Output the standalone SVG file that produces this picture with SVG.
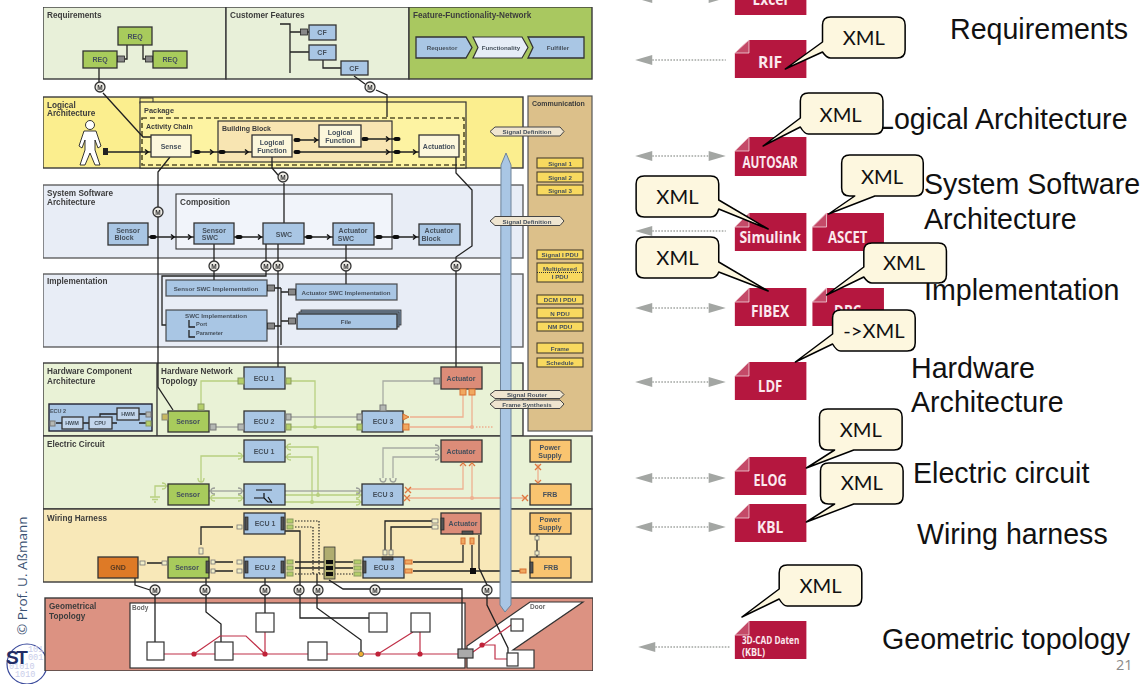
<svg xmlns="http://www.w3.org/2000/svg" width="1147" height="684" viewBox="0 0 1147 684">
<style>
text{font-family:"Liberation Sans",Arial,sans-serif}
.t{font-size:8.2px;font-weight:bold;fill:#3c3c3c}
.n{font-size:7px;font-weight:bold;fill:#45505c;text-anchor:middle}
.s{font-size:6.2px;font-weight:bold;fill:#45505c;text-anchor:middle}
.pan{stroke:#3a3a3a;stroke-width:1.4}
.box{stroke:#333;stroke-width:1.3}
.blue{fill:#a9c6e4}.green{fill:#a8cb5c}.act{fill:#dc8c78}.ora{fill:#f9c46f}.cream{fill:#fcf7dc}.sig{fill:#f8d95e;stroke:#4a4030;stroke-width:1.1}
.w{fill:none;stroke:#222;stroke-width:1.3}
.d{fill:none;stroke:#222;stroke-width:1.2;stroke-dasharray:1.5 1.5}
.gl{fill:none;stroke:#b8d080;stroke-width:1.3}
.gy{fill:none;stroke:#a8aca4;stroke-width:1.3}
.ol{fill:none;stroke:#eeb090;stroke-width:1.3}
.rd{fill:none;stroke:#c03048;stroke-width:1.2}
.pg{fill:#b5cf6a;stroke:#8a9a60;stroke-width:1}
.py{fill:#b4b8b4;stroke:#777;stroke-width:1}
.po{fill:#f0a860;stroke:#d87030;stroke-width:1}
.pw{fill:#f2efc8;stroke:#777;stroke-width:.8}
.st{fill:#555;stroke:#222;stroke-width:.7}
.mc{fill:#eceae4;stroke:#333;stroke-width:1.3}
.mt{font-size:6.5px;font-weight:bold;fill:#333;text-anchor:middle}
.hx{fill:#efe5d0;stroke:#444;stroke-width:1}
.geo{fill:#fff;stroke:#333;stroke-width:1.2}
.doc{fill:#b5173f}
.fold{fill:#c44a68;stroke:#f2d6dc;stroke-width:.8}
.dl{font-weight:bold;fill:#fbe9ee;text-anchor:middle;font-size:16px;font-family:"Open Sans","Noto Sans",sans-serif}
.ga{fill:#a3a6a3}
.dots{fill:none;stroke:#a3a6a3;stroke-width:1.3;stroke-dasharray:1.6 1.4}
.cl{fill:#fdf7df;stroke:#000;stroke-width:1.5;stroke-linejoin:round}
.xt{font-family:Lato,"Open Sans",sans-serif;font-size:20px;fill:#111;text-anchor:middle}
.lb{font-size:28.6px;fill:#111}
</style>
<defs>
<g id="sk"><rect x="-3.5" y="-2" width="7" height="4" rx="2" fill="#111"/></g>
<path id="av" d="M-2,-2.5 L1,0 L-2,2.5" fill="none" stroke="#111" stroke-width="1.5"/>
<path id="cv" d="M-2,-3 Q2,-3 2,0 Q2,3 -2,3" fill="none" stroke-width="1.3"/>
<path id="cx" d="M-3,-3 L3,3 M-3,3 L3,-3" fill="none" stroke="#e07840" stroke-width="1.4"/>
<rect id="tb" x="-3.5" y="-3" width="7" height="6" fill="#888" stroke="#222" stroke-width=".8"/>
<filter id="soft" x="0" y="0" width="1" height="1"><feGaussianBlur stdDeviation="0.4"/></filter>
</defs>

<g id="copyright">
<text transform="translate(27,635) rotate(-90)" font-size="13.5" fill="#3b5273" style="font-family:'Open Sans','Noto Sans',sans-serif">© Prof. U. Aßmann</text>
</g>
<g id="st-logo">
<circle cx="27" cy="664" r="20" fill="#fff" stroke="#3a4a9c" stroke-width="1.2"/>
<g font-size="8.5" fill="#c9cdea"><text x="28" y="652" style="font-family:'Liberation Mono',monospace">101</text><text x="28" y="660" style="font-family:'Liberation Mono',monospace">001</text><text x="9" y="669" style="font-family:'Liberation Mono',monospace">01010</text><text x="15" y="677" style="font-family:'Liberation Mono',monospace">1010</text></g>
<text x="6" y="664" font-size="19" font-weight="bold" fill="#222c66" letter-spacing="-2.5">ST</text>
</g>

<g id="left-diagram" filter="url(#soft)">
<g id="panels">
<rect id="p-req" class="pan" x="43" y="7" width="183" height="72" fill="#e8f0d9"/>
<rect id="p-cf" class="pan" x="226" y="7" width="183" height="72" fill="#e8f0d9"/>
<rect id="p-ffn" class="pan" x="409" y="7" width="183" height="72" fill="#a9c860"/>
<rect id="p-log" class="pan" x="43" y="97" width="480" height="71" fill="#fbee8e"/>
<rect id="p-com" x="528" y="96" width="64" height="335" fill="#dcc08a" stroke="#555" stroke-width="1.2"/>
<rect id="p-sys" class="pan" x="43" y="185" width="480" height="73" fill="#e8edf6" stroke-opacity=".8"/>
<rect id="p-imp" class="pan" x="43" y="274" width="480" height="73" fill="#e8edf6" stroke-opacity=".8"/>
<rect id="p-hw" class="pan" x="43" y="363" width="480" height="73" fill="#e9f2d6"/>
<rect id="p-ec" class="pan" x="43" y="436" width="549" height="73" fill="#e9f2d6"/>
<rect id="p-wh" class="pan" x="43" y="509" width="549" height="73" fill="#f8e8b8"/>
<rect id="p-geo" class="pan" x="45" y="598" width="548" height="73" fill="#dc9282"/>
<path d="M157,363V436" class="pan" fill="none"/>
<rect id="p-body" class="geo" x="130" y="603" width="335" height="65"/>
<path id="p-door" class="geo" d="M467,646L530,602H583L513,650H534V668H467Z"/>
<text class="t" x="47" y="18">Requirements</text>
<text class="t" x="230" y="18">Customer Features</text>
<text class="t" x="413" y="18">Feature-Functionality-Network</text>
<text class="t" x="47" y="108">Logical</text><text class="t" x="47" y="116">Architecture</text>
<text class="t" x="532" y="106" style="font-size:7px">Communication</text>
<text class="t" x="47" y="196">System Software</text><text class="t" x="47" y="205">Architecture</text>
<text class="t" x="47" y="284">Implementation</text>
<text class="t" x="47" y="374">Hardware Component</text><text class="t" x="47" y="384">Architecture</text>
<text class="t" x="161" y="374">Hardware Network</text><text class="t" x="161" y="384">Topology</text>
<text class="t" x="47" y="447">Electric Circuit</text>
<text class="t" x="47" y="521">Wiring Harness</text>
<text class="t" x="49" y="609">Geometrical</text><text class="t" x="49" y="619">Topology</text>
<text class="t" x="132" y="610" style="font-size:6.5px;fill:#666">Body</text>
<text class="t" x="530" y="609" style="font-size:6.5px;fill:#666">Door</text>
</g>

<g id="logical-frames">
<rect x="140" y="98" width="13" height="5" fill="#fbee8e" stroke="#333"/>
<rect id="package" x="140" y="102" width="326" height="66" fill="#fdf3a2" stroke="#333" stroke-width="1.2"/>
<text class="t" x="144" y="113" style="font-size:7.4px">Package</text>
<rect id="activity-chain" x="142" y="118" width="322" height="47" fill="none" stroke="#55502a" stroke-width="1.6" stroke-dasharray="5 3"/>
<text class="t" x="146" y="129" style="font-size:7px">Activity Chain</text>
<rect id="building-block" x="218" y="121" width="174" height="41" fill="#f8e5b2" stroke="#333" stroke-width="1.2"/>
<text class="t" x="222" y="131" style="font-size:7px">Building Block</text>
<rect id="composition" x="176" y="194" width="216" height="55" fill="#f1f4fa" stroke="#333" stroke-width="1.1"/>
<text class="t" x="180" y="205">Composition</text>
</g>

<g id="connectors">
<g id="hw-links">
<path class="gl" d="M238,381H201V405M291,381H315V427M291,427H357"/>
<path class="gy" d="M216,427H238M291,417H357"/>
<path class="gy" d="M383,405V381H434"/>
<path class="ol" d="M463,395V417H410M472,395V427H410"/>
<path class="ol" stroke-dasharray="1.5 1.5" d="M476,427H493"/>
<circle cx="315" cy="427" r="2" fill="#b8d080"/><circle cx="472" cy="427" r="2" fill="#eeb090"/>
<path class="gl" d="M244,456H201V482M285,447H318V495M285,457H312V502M285,495H362M285,502H362"/>
<path class="gl" d="M168,486H155V497M150,497H160M152,499.5H158M154,502H156"/>
<path class="gy" d="M209,491H244M285,491H362"/><path class="gl" d="M209,498H244"/>
<path class="gy" d="M383,478V448H438M393,478V457H438"/>
<path class="ol" d="M463,465V489H409M472,465V498M409,498H527M538,464V482"/>
<circle cx="318" cy="495" r="2" fill="#b8d080"/><circle cx="312" cy="502" r="2" fill="#b8d080"/><circle cx="472" cy="498" r="2" fill="#eeb090"/>
</g>
<g id="logic-links">
<path class="w" d="M127,45V59H125M143,45V59H145M99,68V87M103,93L143,137H151"/>
<path class="w" d="M280,24H290V73M290,32H309M290,52H309M323,60V68H341M354,76L365,84M376,90L387,95V117"/>
<path class="w" d="M108,152H151M191,152H252M294,140H319M294,152H419M362,139H394"/>
<path class="w" d="M170,157L158,172V387L173,410"/>
<path class="w" d="M272,157V168L278,175M284,183V223"/>
<path class="w" d="M456,157V173L472,190V246L456,257V367"/>
<path class="w" d="M148,237H194M234,237H263M304,237H333M374,237H419"/>
<path class="w" d="M214,244V280M266,244V276H162V325H166M278,244V367M346,245V284"/>
<path class="w" d="M275,288H281M281,288V345M281,292H288M275,326H281M281,321H288"/>
</g>
<g id="wiring-links">
<path class="w" d="M147,563H162M201,545V527H233M215,562H233M215,571H233M295,562H353M295,568H353"/>
<path class="d" d="M295,521H319V574M295,527H313V574M295,574H353"/>
<path class="w" d="M285,531H300V618H369"/>
<path class="w" d="M317,574V608L361,640V652"/>
<path class="w" d="M329,580L343,589H462V649"/>
<path class="w" d="M385,550V521H432M391,550V527H432"/>
<path class="w" d="M463,545V562H413M472,545V571M413,571H520"/>
<rect x="470" y="568" width="6" height="6" fill="#111"/>
<path class="w" d="M479,535V568L487,585V605L508,648V653"/>
<path class="w" d="M135,578V585L150,590M155,595V642M206,578V612L221,624V642M265,578V613"/>
<path class="w" d="M537,534V557" stroke="#a05020"/>
</g>
<g id="red-links">
<path class="rd" d="M164,654H215M194,654L220,636H246L265,654V632M233,654H308M327,654H458M378,654L413,632M420,654V632M473,652L511,625M482,645H495V659H507"/>
<circle cx="194" cy="654" r="2.6" fill="#c02038"/><circle cx="265" cy="654" r="2.6" fill="#c02038"/><circle cx="378" cy="654" r="2.6" fill="#c02038"/><circle cx="420" cy="654" r="2.6" fill="#c02038"/><circle cx="482" cy="645" r="2.6" fill="#c02038"/>
<circle cx="361" cy="654" r="2.6" fill="#f0b030" stroke="#555" stroke-width=".8"/>
</g>
<g id="conn-symbols">
<use href="#sk" x="197" y="152"/><use href="#sk" x="222" y="152"/><use href="#av" x="212" y="152"/><use href="#av" x="247" y="152"/>
<use href="#sk" x="297" y="140"/><use href="#sk" x="297" y="152"/><use href="#av" x="316" y="140"/>
<use href="#sk" x="365" y="139"/><use href="#av" x="388" y="139"/><use href="#av" x="388" y="152"/><use href="#sk" x="397" y="139"/><use href="#sk" x="397" y="152"/><use href="#av" x="415" y="152"/>
<use href="#av" x="147" y="152"/><rect x="103" y="148" width="5" height="7" fill="#222"/>
<use href="#sk" x="153" y="237"/><use href="#av" x="173" y="237"/><use href="#av" x="190" y="237"/><use href="#sk" x="239" y="237"/><use href="#av" x="260" y="237"/><use href="#sk" x="309" y="237"/><use href="#av" x="329" y="237"/><use href="#sk" x="379" y="237"/><use href="#sk" x="396" y="237"/><use href="#av" x="415" y="237"/>
<use href="#tb" x="121" y="59"/><use href="#tb" x="149" y="59"/><use href="#tb" x="304" y="32"/>
<use href="#tb" x="271" y="288"/><use href="#tb" x="292" y="292"/><use href="#tb" x="271" y="326"/><use href="#tb" x="292" y="321"/>
</g>
<g id="m-marks">
<g><circle class="mc" cx="100" cy="87" r="5"/><text class="mt" x="100" y="89.5">M</text></g>
<g><circle class="mc" cx="370" cy="87" r="5"/><text class="mt" x="370" y="89.5">M</text></g>
<g><circle class="mc" cx="283" cy="177" r="5"/><text class="mt" x="283" y="179.5">M</text></g>
<g><circle class="mc" cx="158" cy="212" r="5"/><text class="mt" x="158" y="214.5">M</text></g>
<g><circle class="mc" cx="214" cy="266" r="5"/><text class="mt" x="214" y="268.5">M</text></g>
<g><circle class="mc" cx="266" cy="266" r="5"/><text class="mt" x="266" y="268.5">M</text></g>
<g><circle class="mc" cx="278" cy="266" r="5"/><text class="mt" x="278" y="268.5">M</text></g>
<g><circle class="mc" cx="346" cy="266" r="5"/><text class="mt" x="346" y="268.5">M</text></g>
<g><circle class="mc" cx="456" cy="266" r="5"/><text class="mt" x="456" y="268.5">M</text></g>
<g><circle class="mc" cx="155" cy="590" r="5"/><text class="mt" x="155" y="592.5">M</text></g>
<g><circle class="mc" cx="205" cy="590" r="5"/><text class="mt" x="205" y="592.5">M</text></g>
<g><circle class="mc" cx="265" cy="590" r="5"/><text class="mt" x="265" y="592.5">M</text></g>
<g><circle class="mc" cx="299" cy="590" r="5"/><text class="mt" x="299" y="592.5">M</text></g>
<g><circle class="mc" cx="318" cy="590" r="5"/><text class="mt" x="318" y="592.5">M</text></g>
<g><circle class="mc" cx="375" cy="590" r="5"/><text class="mt" x="375" y="592.5">M</text></g>
<g><circle class="mc" cx="487" cy="590" r="5"/><text class="mt" x="487" y="592.5">M</text></g>
</g>
</g>

<g id="person"><circle cx="90" cy="125" r="4.5" fill="#fff" stroke="#222" stroke-width=".9"/><path d="M84,131H96L101,146L98,148L95,140V150L100,165H95L90,153L85,165H80L85,150V140L82,148L79,146Z" fill="#fff" stroke="#222" stroke-width=".9"/></g>

<g id="req1"><rect class="box green" x="118" y="27" width="34" height="18"/><text class="n" x="135" y="38.5">REQ</text></g>
<g id="req2"><rect class="box green" x="83" y="51" width="34" height="17"/><text class="n" x="100" y="62">REQ</text></g>
<g id="req3"><rect class="box green" x="153" y="51" width="34" height="17"/><text class="n" x="170" y="62">REQ</text></g>
<g id="cf1"><rect class="box blue" x="309" y="25" width="27" height="15"/><text class="n" x="322" y="35">CF</text></g>
<g id="cf2"><rect class="box blue" x="309" y="45" width="27" height="15"/><text class="n" x="322" y="55">CF</text></g>
<g id="cf3"><rect class="box blue" x="341" y="61" width="27" height="14"/><text class="n" x="354" y="70.5">CF</text></g>
<g id="requestor"><path class="box blue" d="M416,37H466L472,47.5L466,58H416Z"/><text class="s" x="442" y="50">Requestor</text></g>
<g id="functionality"><path d="M473,37H522L528,47.5L522,58H473L478,47.5Z" fill="#e6edf7" stroke="#333" stroke-width="1.2"/><text class="s" x="501" y="50">Functionality</text></g>
<g id="fulfiller"><path class="box blue" d="M528,37H584V58H528L533,47.5Z"/><text class="s" x="558" y="50">Fulfiller</text></g>

<g id="sense"><rect class="box cream" x="151" y="135" width="40" height="22"/><text class="n" x="171" y="148.5">Sense</text></g>
<g id="lf1"><rect class="box cream" x="252" y="135" width="40" height="22"/><text class="n" x="272" y="145">Logical</text><text class="n" x="272" y="152.5">Function</text></g>
<g id="lf2"><rect class="box cream" x="319" y="125" width="42" height="22"/><text class="n" x="340" y="135">Logical</text><text class="n" x="340" y="142.5">Function</text></g>
<g id="actuation"><rect class="box cream" x="419" y="135" width="40" height="22"/><text class="n" x="439" y="148.5">Actuation</text></g>

<g id="sensor-block"><rect class="box blue" x="108" y="223" width="40" height="22"/><text class="n" x="128" y="232.5">Sensor</text><text class="n" x="124" y="240">Block</text></g>
<g id="sensor-swc"><rect class="box blue" x="194" y="223" width="40" height="21"/><text class="n" x="214" y="232.5">Sensor</text><text class="n" x="210" y="240">SWC</text></g>
<g id="swc"><rect class="box blue" x="263" y="223" width="41" height="21"/><text class="n" x="284" y="236.5">SWC</text></g>
<g id="actuator-swc"><rect class="box blue" x="333" y="223" width="41" height="22"/><text class="n" x="353" y="232.5">Actuator</text><text class="n" x="346" y="240.5">SWC</text></g>
<g id="actuator-block"><rect class="box blue" x="419" y="224" width="41" height="21"/><text class="n" x="439" y="233">Actuator</text><text class="n" x="431" y="241">Block</text></g>

<g id="sensor-impl"><rect class="box blue" x="166" y="280" width="101" height="16" stroke-opacity=".8"/><text class="s" x="216" y="290.5">Sensor SWC Implementation</text></g>
<g id="swc-impl"><rect class="box blue" x="166" y="310" width="101" height="31" stroke-opacity=".8"/><text class="s" x="216" y="318">SWC Implementation</text><path class="w" d="M189,320V327H195M189,330V337H195" stroke-width="1"/><text class="s" x="196" y="326" style="font-size:5.6px;text-anchor:start">Port</text><text class="s" x="196" y="335" style="font-size:5.5px;text-anchor:start">Parameter</text></g>
<g id="actuator-impl"><rect class="box blue" x="296" y="284" width="101" height="16" stroke-opacity=".8"/><text class="s" x="346" y="294.5">Actuator SWC Implementation</text></g>
<g id="file"><rect x="301" y="310" width="100" height="15" fill="#7e94ac" stroke="#333" stroke-width=".8"/><rect x="299" y="312" width="100" height="15" fill="#7e94ac" stroke="#333" stroke-width=".8"/><rect class="box blue" x="297" y="314" width="100" height="15"/><text class="s" x="346" y="324">File</text></g>

<g id="ecu2-hc"><rect x="49" y="404" width="103" height="27" fill="#a9c6e4" stroke="#223" stroke-width="1.4"/><text class="s" x="58" y="413" style="font-size:5.5px">ECU 2</text>
<path class="w" d="M56,423H62M83,423H89M112,423H117M100,417V414H117M139,414H146M139,423H146" stroke-width="1"/>
<rect class="box" x="62" y="417" width="21" height="12" fill="#c3d6ec" stroke-width="1"/><text class="s" x="72" y="425" style="font-size:5.5px">HWM</text>
<rect class="box" x="89" y="417" width="23" height="12" fill="#c3d6ec" stroke-width="1"/><text class="s" x="100" y="425" style="font-size:5.5px">CPU</text>
<rect class="box" x="117" y="408" width="22" height="12" fill="#c3d6ec" stroke-width="1"/><text class="s" x="128" y="416" style="font-size:5.5px">HWM</text>
<rect class="py" x="50" y="421" width="5" height="5"/><rect class="py" x="146" y="412" width="5" height="5"/><rect class="pg" x="146" y="421" width="5" height="5"/></g>

<g id="hw-nodes">
<g id="hw-ecu1"><rect class="box blue" x="244" y="367" width="41" height="22"/><text class="n" x="264" y="380.5">ECU 1</text><rect class="pg" x="238" y="378" width="6" height="6"/><rect class="pg" x="286" y="378" width="5" height="6"/></g>
<g id="hw-ecu2"><rect class="box blue" x="244" y="411" width="41" height="21"/><text class="n" x="264" y="424">ECU 2</text><rect class="py" x="238" y="424" width="6" height="6"/><rect class="py" x="286" y="414" width="5" height="6"/><rect class="pg" x="286" y="424" width="5" height="6"/></g>
<g id="hw-ecu3"><rect class="box blue" x="362" y="411" width="41" height="21"/><text class="n" x="383" y="424">ECU 3</text><rect class="py" x="357" y="414" width="5" height="6"/><rect class="pg" x="357" y="424" width="5" height="6"/><rect class="py" x="380" y="405" width="6" height="6"/><path class="po" d="M403,414L409,417L403,420Z"/><rect class="po" x="403" y="424" width="6" height="6"/></g>
<g id="hw-sensor"><rect class="box green" x="168" y="411" width="41" height="21"/><text class="n" x="188" y="424">Sensor</text><rect x="162" y="414" width="6" height="6" fill="#c8b860" stroke="#887" stroke-width="1"/><rect class="pg" x="198" y="404" width="6" height="6"/><rect class="py" x="210" y="424" width="6" height="6"/></g>
<g id="hw-actuator"><rect class="box act" x="441" y="367" width="41" height="22"/><text class="n" x="461" y="380.5">Actuator</text><rect class="py" x="434" y="378" width="6" height="6"/><rect class="po" x="460" y="389" width="6" height="6"/><rect class="po" x="469" y="389" width="6" height="6"/></g>
</g>
<g id="ec-nodes">
<g id="ec-ecu1"><rect class="box blue" x="244" y="440" width="41" height="22"/><text class="n" x="264" y="453.5">ECU 1</text></g>
<g id="ec-ecu2"><rect class="box blue" x="244" y="484" width="41" height="21"/><path d="M256,490H272M254,498H264M264,493V498L268,502H272M268,497L272,503" fill="none" stroke="#111" stroke-width="1.2"/></g>
<g id="ec-ecu3"><rect class="box blue" x="362" y="484" width="41" height="21"/><text class="n" x="383" y="497">ECU 3</text></g>
<g id="ec-sensor"><rect class="box green" x="168" y="484" width="41" height="21"/><text class="n" x="188" y="497">Sensor</text></g>
<g id="ec-actuator"><rect class="box act" x="441" y="440" width="41" height="22"/><text class="n" x="461" y="453.5">Actuator</text></g>
<g id="ec-power"><rect class="box ora" x="530" y="440" width="41" height="22"/><text class="n" x="550" y="449.5">Power</text><text class="n" x="550" y="457.5">Supply</text></g>
<g id="ec-frb"><rect class="box ora" x="530" y="484" width="41" height="21"/><text class="n" x="550" y="497">FRB</text></g>
<g id="ec-sym">
<g stroke="#b8d080"><use href="#cv" transform="translate(240,456)"/><use href="#cv" transform="translate(201,480) rotate(90)"/><use href="#cv" transform="translate(164,486)"/><use href="#cv" transform="translate(289,447) rotate(180)"/><use href="#cv" transform="translate(289,457) rotate(180)"/><use href="#cv" transform="translate(240,498)"/><use href="#cv" transform="translate(213,498) rotate(180)"/><use href="#cv" transform="translate(358,495)"/><use href="#cv" transform="translate(358,502)"/></g>
<g stroke="#9a9e98"><use href="#cv" transform="translate(240,491)"/><use href="#cv" transform="translate(213,491) rotate(180)"/><use href="#cv" transform="translate(358,491)"/><use href="#cv" transform="translate(383,480) rotate(90)"/><use href="#cv" transform="translate(393,480) rotate(90)"/><use href="#cv" transform="translate(437,448)"/><use href="#cv" transform="translate(437,457)"/></g>
<use href="#cx" x="408" y="490"/><use href="#cx" x="407" y="498"/><use href="#cx" x="525" y="498"/><use href="#cx" x="538" y="467"/>
<path d="M460,466L463,463L466,466M469,466L472,463L475,466M535,480L538,483L541,480" fill="none" stroke="#e07840" stroke-width="1.3"/>
</g>
</g>
<g id="wh-nodes">
<g id="wh-ecu1"><rect class="box blue" x="244" y="513" width="41" height="21"/><text class="n" x="265" y="526">ECU 1</text><rect class="st" x="245" y="517" width="3" height="13"/><rect class="st" x="281" y="517" width="3" height="13"/><rect class="pw" x="237" y="525" width="5" height="4"/><rect class="pg" x="287" y="519" width="6" height="4"/><rect class="pg" x="287" y="525" width="6" height="4"/></g>
<g id="wh-ecu2"><rect class="box blue" x="244" y="557" width="41" height="21"/><text class="n" x="265" y="570">ECU 2</text><rect class="st" x="245" y="561" width="3" height="12"/><rect class="st" x="281" y="561" width="3" height="12"/><rect class="pw" x="237" y="560" width="5" height="4"/><rect class="pw" x="237" y="569" width="5" height="4"/><rect class="pg" x="287" y="560" width="6" height="4"/><rect class="pg" x="287" y="566" width="6" height="4"/><rect class="pg" x="287" y="572" width="6" height="4"/></g>
<g id="wh-ecu3"><rect class="box blue" x="363" y="557" width="41" height="21"/><text class="n" x="384" y="570">ECU 3</text><rect class="st" x="363" y="561" width="3" height="12"/><rect class="st" x="382" y="557" width="11" height="3"/><rect class="pw" x="383" y="550" width="4" height="5"/><rect class="pw" x="389" y="550" width="4" height="5"/><rect class="pg" x="354" y="560" width="7" height="4"/><rect class="pg" x="354" y="566" width="7" height="4"/><rect class="pg" x="354" y="572" width="7" height="4"/><rect class="po" x="405" y="560" width="7" height="4"/><rect class="po" x="405" y="569" width="7" height="4"/></g>
<g id="wh-sensor"><rect class="box green" x="168" y="557" width="41" height="21"/><text class="n" x="187" y="570">Sensor</text><rect class="st" x="206" y="561" width="3" height="12"/><rect class="pw" x="162" y="561" width="5" height="4"/><rect class="pw" x="199" y="548" width="4" height="6"/><rect class="pw" x="211" y="560" width="4" height="4"/><rect class="pw" x="211" y="569" width="4" height="4"/></g>
<g id="wh-gnd"><rect class="box" fill="#de7a28" x="98" y="557" width="40" height="21"/><text class="n" x="118" y="570" style="fill:#5a3a20">GND</text><rect class="pw" x="140" y="561" width="5" height="4"/></g>
<g id="wh-actuator"><rect class="box act" x="441" y="513" width="40" height="21"/><text class="n" x="463" y="526">Actuator</text><rect class="st" x="441" y="518" width="3" height="12"/><rect class="st" x="462" y="531" width="11" height="3"/><rect class="pw" x="432" y="519" width="6" height="4"/><rect class="pw" x="432" y="525" width="6" height="4"/><rect class="po" x="461" y="538" width="4" height="6"/><rect class="po" x="470" y="538" width="4" height="6"/></g>
<g id="wh-power"><rect class="box ora" x="530" y="513" width="41" height="21"/><text class="n" x="550" y="522">Power</text><text class="n" x="550" y="530">Supply</text><rect class="pw" x="535" y="536" width="4" height="4"/><rect class="pw" x="535" y="551" width="4" height="4"/></g>
<g id="wh-frb"><rect class="box ora" x="530" y="557" width="41" height="21"/><text class="n" x="551" y="570">FRB</text><rect class="st" x="530" y="562" width="3" height="11"/><rect class="po" x="520" y="569" width="6" height="4"/></g>
<g id="wh-conn"><rect x="324" y="547" width="11" height="32" fill="#b0ad70" stroke="#333" stroke-width=".8"/><rect x="326" y="560" width="7" height="4" fill="#111"/><rect x="326" y="566" width="7" height="4" fill="#111"/><rect x="326" y="572" width="7" height="4" fill="#111"/></g>
</g>
<g id="geo-nodes">
<rect class="geo" x="147" y="642" width="17" height="18"/><rect class="geo" x="215" y="642" width="18" height="18"/><rect class="geo" x="256" y="613" width="18" height="19"/><rect class="geo" x="308" y="642" width="19" height="18"/><rect class="geo" x="369" y="613" width="18" height="19"/><rect class="geo" x="411" y="613" width="19" height="19"/><rect x="458" y="649" width="15" height="9" fill="#aaa" stroke="#333" stroke-width="1.2"/><rect class="geo" x="511" y="619" width="12" height="12"/><rect class="geo" x="507" y="653" width="11" height="13"/>
</g>

<g id="signals">
<rect class="sig" x="537" y="158" width="46" height="10"/><text class="s" x="560" y="165.5">Signal 1</text>
<rect class="sig" x="537" y="172" width="46" height="10"/><text class="s" x="560" y="179.5">Signal 2</text>
<rect class="sig" x="537" y="185" width="46" height="10"/><text class="s" x="560" y="192.5">Signal 3</text>
<rect class="sig" x="537" y="250" width="46" height="9"/><text class="s" x="560" y="257">Signal I PDU</text>
<rect class="sig" x="537" y="263" width="46" height="19"/><path d="M537,272.5H583" stroke="#333" stroke-dasharray="1 1"/><text class="s" x="560" y="270.5">Multiplexed</text><text class="s" x="560" y="279">I PDU</text>
<rect class="sig" x="537" y="295" width="46" height="9"/><text class="s" x="560" y="302">DCM I PDU</text>
<rect class="sig" x="537" y="308" width="46" height="10"/><text class="s" x="560" y="315.5">N PDU</text>
<rect class="sig" x="537" y="322" width="46" height="9"/><text class="s" x="560" y="329">NM PDU</text>
<rect class="sig" x="537" y="343" width="46" height="10"/><text class="s" x="560" y="350.5">Frame</text>
<rect class="sig" x="537" y="358" width="46" height="9"/><text class="s" x="560" y="365">Schedule</text>
</g>
<path id="bar" d="M501,165L506,153L511,165V605L505,612L500,605Z" fill="#a9c6e4" stroke="#6e8398" stroke-width="1"/>
<g id="hexes">
<polygon class="hx" points="490,131.5 495,127 560,127 564,131.5 560,136 495,136"/><text class="s" x="527" y="134">Signal Definition</text>
<polygon class="hx" points="490,221 495,216.5 560,216.5 564,221 560,225.5 495,225.5"/><text class="s" x="527" y="223.5">Signal Definition</text>
<polygon class="hx" points="490,394.5 495,390.5 560,390.5 564,394.5 560,398.5 495,398.5"/><text class="s" x="527" y="397">Signal Router</text>
<polygon class="hx" points="490,404 495,400 560,400 564,404 560,408.5 495,408.5"/><text class="s" x="527" y="406.5">Frame Synthesis</text>
</g>
</g>

<g id="layer-labels">
<text class="lb" x="950" y="39">Requirements</text>
<text class="lb" x="878" y="129">Logical Architecture</text>
<text class="lb" x="924" y="194">System Software</text>
<text class="lb" x="924" y="229">Architecture</text>
<text class="lb" x="924" y="300">Implementation</text>
<text class="lb" x="911" y="378">Hardware</text>
<text class="lb" x="911" y="412">Architecture</text>
<text class="lb" x="913" y="483">Electric circuit</text>
<text class="lb" x="917" y="544">Wiring harness</text>
<text class="lb" x="882" y="649">Geometric topology</text>
</g>

<g id="exchange-arrows" transform="translate(620,0) scale(1.0075,1) translate(-620,0)">
<path class="dots" d="M652,-2H708M652,60H725M652,156H708M652,231H725M652,308H708M652,382H708M652,478H708M652,527H708M655,647H730"/>
<path class="ga" d="M635,-2L652,-7V3ZM725,-2L708,-7V3ZM635,60L652,55V65ZM635,156L652,151V161ZM725,156L708,151V161ZM635,231L652,226V236ZM635,308L652,303V313ZM725,308L708,303V313ZM635,382L652,377V387ZM725,382L708,377V387ZM635,478L652,473V483ZM725,478L708,473V483ZM635,527L652,522V532ZM725,527L708,522V532ZM638,647L655,642V652Z"/>
</g>

<g id="formats" transform="translate(620,0) scale(1.0075,1) translate(-620,0)">
<g id="doc-excel"><rect class="doc" x="734" y="-10" width="71" height="25"/><text class="dl" x="769" y="5" textLength="35" lengthAdjust="spacingAndGlyphs">Excel</text></g>
<g id="doc-rif"><path class="doc" d="M734,78V53L748,40H805V78Z"/><path class="fold" d="M748,40V53H734Z"/><text class="dl" x="769" y="68" textLength="24" lengthAdjust="spacingAndGlyphs">RIF</text></g>
<g id="doc-autosar"><path class="doc" d="M734,176V151L748,137H805V176Z"/><path class="fold" d="M748,137V151H734Z"/><text class="dl" x="769" y="168" textLength="55" lengthAdjust="spacingAndGlyphs">AUTOSAR</text></g>
<g id="doc-simulink"><path class="doc" d="M734,251V227L748,213H805V251Z"/><path class="fold" d="M748,213V227H734Z"/><text class="dl" x="769" y="243" textLength="61" lengthAdjust="spacingAndGlyphs">Simulink</text></g>
<g id="doc-ascet"><path class="doc" d="M811,251V227L825,213H882V251Z"/><path class="fold" d="M825,213V227H811Z"/><text class="dl" x="846" y="243" textLength="39" lengthAdjust="spacingAndGlyphs">ASCET</text></g>
<g id="doc-fibex"><path class="doc" d="M734,326V302L748,288H805V326Z"/><path class="fold" d="M748,288V302H734Z"/><text class="dl" x="769" y="317" textLength="38" lengthAdjust="spacingAndGlyphs">FIBEX</text></g>
<g id="doc-dbc"><path class="doc" d="M811,326V302L825,288H882V326Z"/><path class="fold" d="M825,288V302H811Z"/><text class="dl" x="846" y="317" textLength="27" lengthAdjust="spacingAndGlyphs">DBC</text></g>
<g id="doc-ldf"><path class="doc" d="M734,400V376L748,362H805V400Z"/><path class="fold" d="M748,362V376H734Z"/><text class="dl" x="769" y="392" textLength="24" lengthAdjust="spacingAndGlyphs">LDF</text></g>
<g id="doc-elog"><path class="doc" d="M734,495V471L748,457H805V495Z"/><path class="fold" d="M748,457V471H734Z"/><text class="dl" x="769" y="486" textLength="33" lengthAdjust="spacingAndGlyphs">ELOG</text></g>
<g id="doc-kbl"><path class="doc" d="M734,542V518L748,504H805V542Z"/><path class="fold" d="M748,504V518H734Z"/><text class="dl" x="769" y="533" textLength="26" lengthAdjust="spacingAndGlyphs">KBL</text></g>
<g id="doc-cad"><path class="doc" d="M734,659V635L748,621H805V659Z"/><path class="fold" d="M748,621V635H734Z"/><text class="dl" x="741" y="644" style="text-anchor:start;font-size:10px" textLength="57" lengthAdjust="spacingAndGlyphs">3D-CAD Daten</text><text class="dl" x="741" y="656" style="text-anchor:start;font-size:10px" textLength="23" lengthAdjust="spacingAndGlyphs">(KBL)</text></g>
</g>

<g id="callouts" transform="translate(620,0) scale(1.0075,1) translate(-620,0)">
<g id="c-rif"><path class="cl" d="M829,17H895Q903,17 903,25V50Q903,58 895,58H829Q825,58 821,52L784,69L821,42V25Q821,17 829,17Z"/><text class="xt" x="862" y="45">XML</text></g>
<g id="c-autosar"><path class="cl" d="M807,93H873Q881,93 881,101V126Q881,134 873,134H807Q803,134 799,127L762,146L799,118V101Q799,93 807,93Z"/><text class="xt" x="839" y="122">XML</text></g>
<g id="c-ascet"><path class="cl" d="M848,155H913Q921,155 921,163V188Q921,196 913,196H873L827,214L853,196H848Q840,196 840,188V163Q840,155 848,155Z"/><text class="xt" x="880" y="184">XML</text></g>
<g id="c-simulink"><path class="cl" d="M644,176H710Q718,176 718,184V200L767,229L718,209Q716,217 710,217H644Q636,217 636,209V184Q636,176 644,176Z"/><text class="xt" x="677" y="204">XML</text></g>
<g id="c-fibex"><path class="cl" d="M644,237H710Q718,237 718,245V262L767,291L718,272Q716,278 710,278H644Q636,278 636,270V245Q636,237 644,237Z"/><text class="xt" x="677" y="265">XML</text></g>
<g id="c-dbc"><path class="cl" d="M870,243H936Q944,243 944,251V275Q944,283 936,283H870Q866,283 862,277L825,295L862,267V251Q862,243 870,243Z"/><text class="xt" x="902" y="270">XML</text></g>
<g id="c-ldf"><path class="cl" d="M839,310H905Q913,310 913,318V343Q913,351 905,351H839Q835,351 831,344L794,362L831,334V318Q831,310 839,310Z"/><text class="xt" x="872" y="338">-&gt;XML</text></g>
<g id="c-elog"><path class="cl" d="M826,409H892Q900,409 900,417V442Q900,450 892,450H852L805,468L833,450H826Q818,450 818,442V417Q818,409 826,409Z"/><text class="xt" x="859" y="437">XML</text></g>
<g id="c-kbl"><path class="cl" d="M827,463H893Q901,463 901,471V496Q901,504 893,504H852L805,522L833,504H827Q819,504 819,496V471Q819,463 827,463Z"/><text class="xt" x="860" y="490">XML</text></g>
<g id="c-cad"><path class="cl" d="M786,565H852Q860,565 860,573V598Q860,606 852,606H786Q782,606 778,599L741,617L778,589V573Q778,565 786,565Z"/><text class="xt" x="819" y="593">XML</text></g>
</g>
<text id="page-number" x="1116" y="670" font-size="14.5" fill="#8a8a8a" style="font-family:'Open Sans','Noto Sans',sans-serif">21</text>
</svg>
